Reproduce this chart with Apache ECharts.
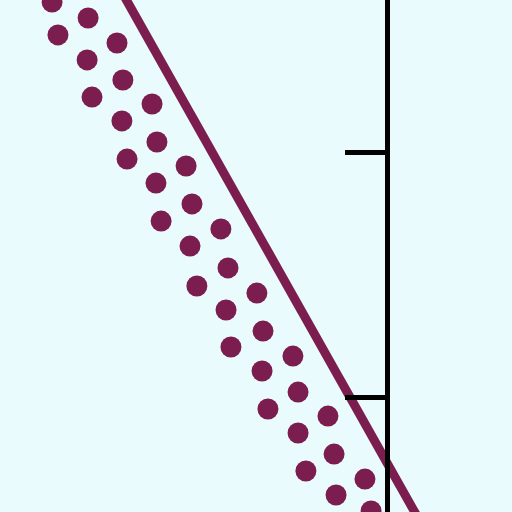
<!DOCTYPE html>
<html>
<head>
<meta charset="utf-8">
<script src="https://cdn.jsdelivr.net/npm/echarts@6/dist/echarts.min.js"></script>
<style>
html,body{margin:0;padding:0;background:#e9fbfc;overflow:hidden;width:512px;height:512px;position:relative;}
#chart{position:absolute;left:-103px;top:-93px;width:735px;height:735px;}
</style>
</head>
<body>
<div id="chart"></div>
<script>
// Scatter points [x, y]
const dotsX = [-13.67,-12.20,-13.43,-11.02,-12.24,-10.78,-12.04,-9.59,-10.82,-9.39,-10.61,-8.20,-9.43,-7.96,-9.22,-6.78,-8.04,-6.49,-7.76,-5.31,-6.57,-5.06,-6.37,-3.84,-5.10,-3.63,-4.86,-2.41,-3.63,-2.16,-3.31,-0.90,-2.08,-0.65];
const dotsY = [26.12,25.47,24.78,24.45,23.76,22.94,22.24,21.96,21.27,20.41,19.71,19.43,18.73,17.88,17.18,16.86,16.16,15.27,14.53,14.24,13.55,12.69,12.04,11.67,11.06,10.20,9.51,9.22,8.53,7.67,6.98,6.65,6.00,5.35];
// Straight line endpoints
const lineX = [-12, 2];
const lineY = [28.62, 3.76];
// y-axis ticks
const yTicks = [0, 10, 20, 30];

const color = '#7b1d4e';
const chart = echarts.init(document.getElementById('chart'));
chart.setOption({
  animation: false,
  backgroundColor: '#e9fbfc',
  grid: {left: 0, right: 0, top: 0, bottom: 0, containLabel: false},
  xAxis: {type: 'value', min: -20, max: 10, show: false},
  yAxis: {
    type: 'value', min: yTicks[0], max: yTicks[yTicks.length-1], interval: 10,
    position: 'left',
    z: 5,
    axisLine: {show: true, onZero: true, lineStyle: {color: '#000', width: 5}},
    axisTick: {show: true, length: 42, lineStyle: {color: '#000', width: 5}},
    axisLabel: {show: false},
    splitLine: {show: false}
  },
  series: [
    {
      type: 'scatter',
      data: dotsX.map((x, i) => [x, dotsY[i]]),
      symbolSize: 21,
      itemStyle: {color: color, opacity: 1},
      clip: false
    },
    {
      type: 'line',
      data: lineX.map((x, i) => [x, lineY[i]]),
      showSymbol: false,
      symbol: 'none',
      lineStyle: {color: color, width: 9},
      clip: false
    }
  ]
});
</script>
</body>
</html>
